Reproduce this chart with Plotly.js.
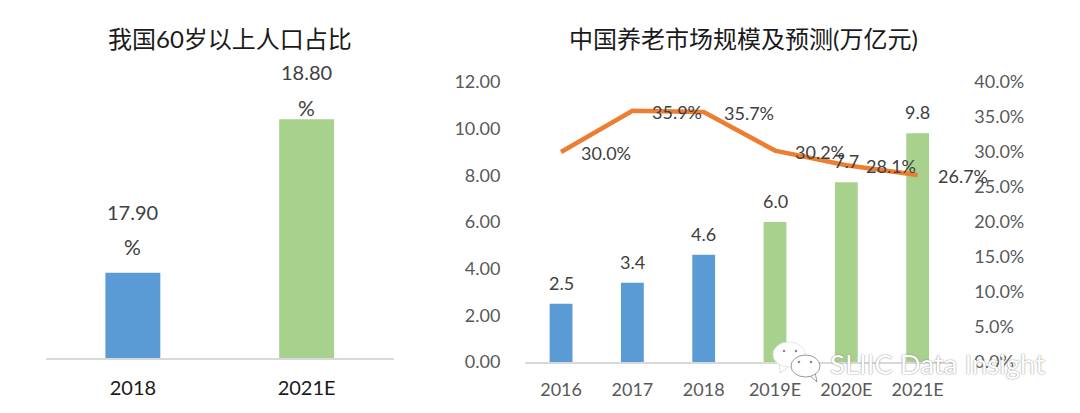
<!DOCTYPE html>
<html><head><meta charset="utf-8">
<script src="https://cdn.plot.ly/plotly-3.0.1.min.js"></script>
<style>html,body{margin:0;padding:0;background:#fff}#c{width:1080px;height:413px}</style>
</head><body><div id="c"></div>
<script>
const W = 1080, H = 413;
const FONT = 'Lato, "Noto Sans CJK SC", sans-serif';
const leftTitle = '我国60岁以上人口占比';
const rightTitle = '中国养老市场规模及预测(万亿元)';
const leftCats = ['2018', '2021E'];
const leftValues = [17.9, 18.8];
const leftLabels = ['17.90', '18.80'];
const rightCats = ['2016', '2017', '2018', '2019E', '2020E', '2021E'];
const marketValues = [2.5, 3.4, 4.6, 6.0, 7.7, 9.8];
const marketLabels = ['2.5', '3.4', '4.6', '6.0', '7.7', '9.8'];
const growthValues = [30.0, 35.9, 35.7, 30.2, 28.1, 26.7];
const growthLabels = ['30.0%', '35.9%', '35.7%', '30.2%', '28.1%', '26.7%'];
const BLUE = '#5B9BD5', GREEN = '#A9D18E', ORANGE = '#ED7D31';
const leftColors = [BLUE, GREEN];
const rightColors = [BLUE, BLUE, BLUE, GREEN, GREEN, GREEN];
const leftLabelShift = [61, 47];
const px = x => x / W, py = y => 1 - y / H;

const data = [
  {type:'bar', x:leftCats, y:leftValues, xaxis:'x', yaxis:'y', width:0.316,
   marker:{color:leftColors}, hoverinfo:'x+y'},
  {type:'bar', x:rightCats, y:marketValues, xaxis:'x2', yaxis:'y2', width:0.32,
   marker:{color:rightColors}, hoverinfo:'x+y'},
  {type:'scatter', mode:'lines', x:rightCats, y:growthValues, xaxis:'x2', yaxis:'y3',
   line:{color:ORANGE, width:4.5, shape:'linear'}, hoverinfo:'x+y'}
];

const annotations = [];
const ann = o => annotations.push(Object.assign({showarrow:false, xanchor:'center', yanchor:'middle'}, o));
ann({xref:'paper', yref:'paper', x:px(230), y:py(39), text:leftTitle, font:{family:FONT, size:24, color:'#1a1a1a'}});
ann({xref:'paper', yref:'paper', x:px(743.5), y:py(39), text:rightTitle, font:{family:FONT, size:24, color:'#1a1a1a'}});
leftCats.forEach((c,i)=>{
  ann({xref:'x', yref:'y', x:i, y:leftValues[i], yshift:leftLabelShift[i], text:leftLabels[i], font:{family:FONT, size:20, color:'#404040'}});
  ann({xref:'x', yref:'y', x:i, y:leftValues[i], yshift:leftLabelShift[i]-35, text:'%', font:{family:FONT, size:21, color:'#404040'}});
});
rightCats.forEach((c,i)=>{
  ann({xref:'x2', yref:'y2', x:i, y:marketValues[i], yshift:21, text:marketLabels[i], font:{family:FONT, size:18, color:'#404040'}});
  ann({xref:'x2', yref:'y3', x:i, y:growthValues[i], xshift:45, yshift:-1, text:growthLabels[i], font:{family:FONT, size:18, color:'#404040'}});
});
// watermark
ann({xref:'paper', yref:'paper', x:px(828), y:py(363), xanchor:'left', text:'SLIIC Data Insight',
     font:{family:FONT, size:27.5, color:'#ffffff', shadow:'0 0 1.5px #666666'}});

const bubble = (x0,y0,x1,y1,line) => ({type:'circle', xref:'paper', yref:'paper', x0:px(x0), x1:px(x1), y0:py(y0), y1:py(y1), fillcolor:'#ffffff', line:{color:line, width:1}});
const dot = (x,y) => ({type:'circle', xref:'paper', yref:'paper', x0:px(x-1.3), x1:px(x+1.3), y0:py(y-1.3), y1:py(y+1.3), fillcolor:'#8a8a8a', line:{width:0}});
const tail = (x0,y0,x1,y1,x2,y2,line) => ({type:'path', xref:'paper', yref:'paper', path:`M${x0/W} ${1-y0/H} L${x1/W} ${1-y1/H} L${x2/W} ${1-y2/H} Z`, fillcolor:'#ffffff', line:{color:line, width:1}});
const shapes = [
  tail(779,361,780,373,791,365,'#dddddd'),
  bubble(773,342,805,367,'#e6e6e6'),
  dot(784,351), dot(796,351),
  tail(808,374,817,382,815,372,'#999999'),
  bubble(791,355,820,377,'#999999'),
  dot(799,362), dot(811,362)
];

const layout = {
  width:W, height:H, margin:{l:0,r:0,t:0,b:0}, paper_bgcolor:'#fff', plot_bgcolor:'rgba(0,0,0,0)',
  showlegend:false, barmode:'overlay', font:{family:FONT},
  xaxis:{domain:[px(46),px(393.5)], type:'category', range:[-0.5,1.5], anchor:'y', showline:true, linecolor:'#D9D9D9', linewidth:1.5, showgrid:false, ticks:'', ticklabelstandoff:11,
    tickfont:{family:FONT, size:20, color:'#1a1a1a'}, zeroline:false},
  yaxis:{domain:[py(358),py(85)], range:[17.4,19], anchor:'x', visible:false},
  xaxis2:{domain:[px(525.4),px(953.3)], type:'category', range:[-0.5,5.5], anchor:'y2', showline:true, linecolor:'#D9D9D9', linewidth:1.5, showgrid:false, ticks:'', ticklabelstandoff:11,
    tickfont:{family:FONT, size:18, color:'#595959'}, zeroline:false},
  yaxis2:{domain:[py(362),py(82)], range:[0,12], dtick:2, tickformat:'.2f', anchor:'x2', showgrid:false, zeroline:false, showline:false, ticks:'', ticklabelstandoff:24,
    tickfont:{family:FONT, size:18, color:'#595959'}},
  yaxis3:{domain:[py(362),py(82)], range:[0,40], dtick:5, tickformat:'.1f', ticksuffix:'%', anchor:'x2', overlaying:'y2', side:'right', showgrid:false, zeroline:false, showline:false, ticks:'', ticklabelstandoff:20,
    tickfont:{family:FONT, size:18, color:'#595959'}},
  annotations, shapes
};
Plotly.newPlot('c', data, layout, {displayModeBar:false, staticPlot:true});
</script></body></html>
